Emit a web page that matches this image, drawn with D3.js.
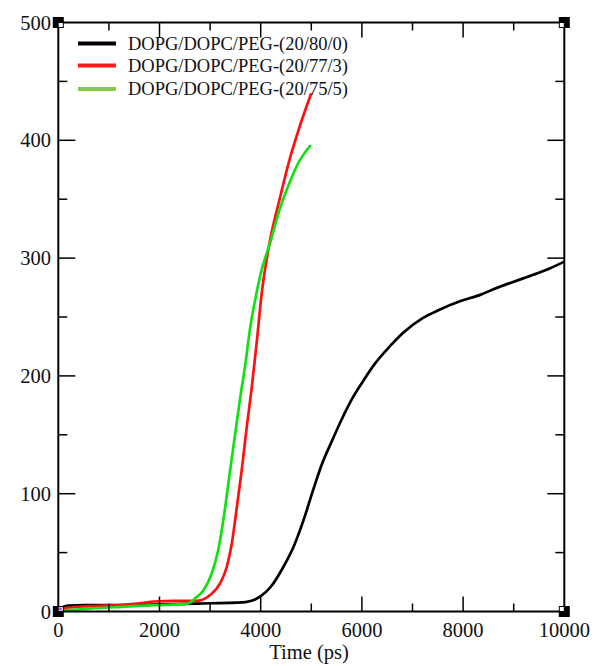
<!DOCTYPE html>
<html lang="en">
<head>
  <meta charset="UTF-8" />
  <title>DOPG/DOPC/PEG</title>
  <style>
    body { margin: 0; background: #fff; overflow: hidden; }
    svg { position: absolute; top: 0; left: 0; }
    .tick-label { font-family: "Liberation Serif", "Times New Roman", serif; font-size: 20.5px; fill: #111; }
    .legend-text { font-family: "Liberation Serif", "Times New Roman", serif; font-size: 18.5px; fill: #111; }
    .curve { fill: none; stroke-width: 2.7px; stroke-linejoin: round; }
  </style>
</head>
<body>
<svg id="chart"></svg>
<script src="https://d3js.org/d3.v7.min.js"></script>
<script>
  const width = 595, height = 666;

  // series: time (ps) and value
  const blackT = [0, 200, 500, 1000, 1500, 2000, 2500, 3000, 3500, 3700, 3850, 4000, 4200, 4450, 4650, 4850, 5050, 5200, 5400, 5600, 5800, 6000, 6250, 6550, 6800, 7200, 7500, 7950, 8350, 8600, 9000, 9400, 9700, 10000];
  const blackV = [2, 5, 5.5, 5.5, 5.5, 6, 6.5, 7, 7.5, 8, 9.5, 13, 21, 38, 55, 78, 105, 124, 144, 163, 180, 194, 210, 225, 236, 249, 255.5, 263.5, 269, 273.5, 280, 286, 291, 297];

  const redT = [0, 150, 600, 1200, 1600, 1900, 2300, 2700, 2850, 3000, 3200, 3330, 3430, 3530, 3625, 3720, 3820, 3920, 4020, 4180, 4380, 4580, 4780, 5000];
  const redV = [1, 3, 4.5, 5.5, 7, 8.5, 9, 9, 10, 14, 24, 38, 58, 89, 120, 155, 189, 228, 270, 314, 351, 385, 413, 440];

  const greenT = [0, 600, 1250, 1900, 2500, 2600, 2700, 2870, 3030, 3160, 3290, 3390, 3490, 3590, 3690, 3790, 3920, 3990, 4200, 4380, 4580, 4710, 4990];
  const greenV = [0.5, 2.5, 4, 5.4, 6.2, 7.5, 11, 18, 32, 52, 86, 118, 149, 180, 208, 240, 271, 285, 315, 342, 365, 378, 396];

  const legendLabels = ["DOPG/DOPC/PEG-(20/80/0)", "DOPG/DOPC/PEG-(20/77/3)", "DOPG/DOPC/PEG-(20/75/5)"];
  const xTicks = [0, 2000, 4000, 6000, 8000, 10000];
  const yTicks = [0, 100, 200, 300, 400, 500];

  const series = [
    { t: blackT, v: blackV, color: "#000000", legendColor: "#000000" },
    { t: redT, v: redV, color: "#ff1010", legendColor: "#ff1a1a" },
    { t: greenT, v: greenV, color: "#12e012", legendColor: "#86cc4a" }
  ];

  const pLeft = 58.3, pRight = 564.3, pTop = 22.5, pBottom = 611.5;

  const svg = d3.select("#chart").attr("width", width).attr("height", height);

  const x = d3.scaleLinear().domain([0, 10000]).range([pLeft, pRight]);
  const y = d3.scaleLinear().domain([0, 500]).range([pBottom, pTop]);

  // curves
  const line = d3.line().x(d => x(d[0])).y(d => y(d[1])).curve(d3.curveMonotoneX);
  series.forEach(s => {
    svg.append("path")
      .attr("class", "curve")
      .attr("stroke", s.color)
      .attr("d", line(s.t.map((t, i) => [t, s.v[i]])));
  });

  // frame
  svg.append("rect")
    .attr("x", pLeft).attr("y", pTop)
    .attr("width", pRight - pLeft).attr("height", pBottom - pTop)
    .attr("fill", "none").attr("stroke", "#000").attr("stroke-width", 2);

  // ticks on all four sides, pointing inward
  const xMinor = d3.range(1000, 10000, 2000);
  const yMinor = d3.range(50, 500, 100);
  const tickG = svg.append("g").attr("stroke", "#000").attr("stroke-width", 1.5);

  xTicks.slice(1, -1).forEach(t => {
    tickG.append("line").attr("x1", x(t)).attr("x2", x(t)).attr("y1", pBottom).attr("y2", pBottom - 15);
    tickG.append("line").attr("x1", x(t)).attr("x2", x(t)).attr("y1", pTop).attr("y2", pTop + 15);
  });
  xMinor.forEach(t => {
    tickG.append("line").attr("x1", x(t)).attr("x2", x(t)).attr("y1", pBottom).attr("y2", pBottom - 8);
    tickG.append("line").attr("x1", x(t)).attr("x2", x(t)).attr("y1", pTop).attr("y2", pTop + 8);
  });
  yTicks.slice(1, -1).forEach(v => {
    tickG.append("line").attr("x1", pLeft).attr("x2", pLeft + 17).attr("y1", y(v)).attr("y2", y(v));
    tickG.append("line").attr("x1", pRight).attr("x2", pRight - 17).attr("y1", y(v)).attr("y2", y(v));
  });
  yMinor.forEach(v => {
    tickG.append("line").attr("x1", pLeft).attr("x2", pLeft + 9).attr("y1", y(v)).attr("y2", y(v));
    tickG.append("line").attr("x1", pRight).attr("x2", pRight - 9).attr("y1", y(v)).attr("y2", y(v));
  });

  // tick labels
  svg.selectAll(".xlab").data(xTicks).enter().append("text")
    .attr("class", "tick-label")
    .attr("x", d => x(d)).attr("y", 637)
    .attr("text-anchor", "middle")
    .text(d => d);

  svg.selectAll(".ylab").data(yTicks).enter().append("text")
    .attr("class", "tick-label")
    .attr("x", 51).attr("y", d => y(d) + 7)
    .attr("text-anchor", "end")
    .text(d => d);

  svg.append("text")
    .attr("class", "tick-label")
    .attr("x", 309).attr("y", 659)
    .attr("text-anchor", "middle")
    .text("Time (ps)");

  // corner handles
  const corners = [[pLeft, pTop, 1, 1], [pRight, pTop, -1, 1], [pLeft, pBottom, 1, -1], [pRight, pBottom, -1, -1]];
  corners.forEach(([cx, cy, dx, dy]) => {
    svg.append("rect").attr("x", cx - 5.5).attr("y", cy - 5.5).attr("width", 11).attr("height", 11).attr("fill", "#000");
    svg.append("rect")
      .attr("x", dx > 0 ? cx + 0.5 : cx - 4.5)
      .attr("y", dy > 0 ? cy + 0.5 : cy - 4.5)
      .attr("width", 4).attr("height", 4).attr("fill", "#fff");
  });
  svg.append("rect").attr("x", pLeft + 0.5).attr("y", pBottom - 4).attr("width", 3).attr("height", 3).attr("fill", "#d040f0");

  // legend
  const legendY = [43.5, 65.5, 89];
  const legend = svg.append("g");
  legendLabels.forEach((label, i) => {
    legend.append("line")
      .attr("x1", 78).attr("x2", 116)
      .attr("y1", legendY[i]).attr("y2", legendY[i])
      .attr("stroke", series[i].legendColor).attr("stroke-width", 4);
    legend.append("text")
      .attr("class", "legend-text")
      .attr("x", 128).attr("y", legendY[i] + 6)
      .text(label);
  });
</script>
</body>
</html>
